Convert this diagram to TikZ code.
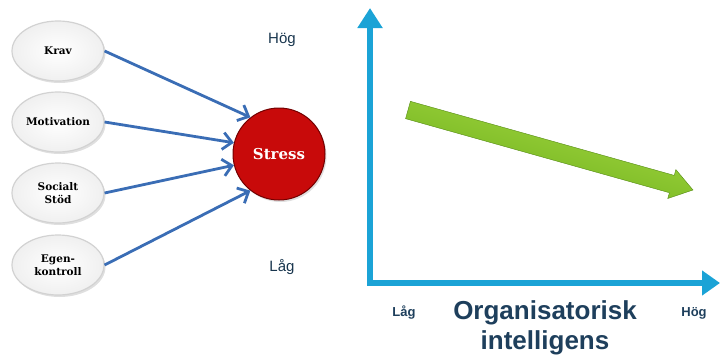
\documentclass[tikz,border=0pt]{standalone}
\usepackage{fontspec}
\setmainfont{DejaVu Serif}
\setsansfont{Liberation Sans}
\usetikzlibrary{arrows.meta,shadows,calc,shapes.geometric}
\definecolor{axisblue}{HTML}{1BA3D6}
\definecolor{linkblue}{HTML}{3A6DB5}
\definecolor{textnavy}{HTML}{1E3F5C}
\definecolor{stressred}{HTML}{C80A0A}
\definecolor{greenlight}{HTML}{A8DA45}
\definecolor{greendark}{HTML}{6AAE18}
\tikzset{
  factor/.style={ellipse, minimum width=92pt, minimum height=60pt, inner color=white, outer color=gray!12,
    draw=gray!35, line width=1.2pt, drop shadow={opacity=0.25, shadow xshift=1.5pt, shadow yshift=-2pt},
    font=\fontsize{10.5}{11.5}\selectfont\bfseries, align=center, inner sep=0pt},
  stressnode/.style={circle, minimum size=92pt, fill=stressred, draw=red!45!black, line width=1pt,
    drop shadow={opacity=0.25, shadow xshift=1.5pt, shadow yshift=-2pt},
    text=white, font=\fontsize{15}{17}\selectfont\bfseries, inner sep=0pt},
  link/.style={draw=linkblue, line width=2.8pt, -{Straight Barb[length=9pt,width=17pt,line width=2.8pt]}},
  axis/.style={draw=axisblue, line width=6pt, line join=miter},
  levellbl/.style={font=\sffamily\fontsize{15}{16}\selectfont, text=textnavy!85!black},
  axislbl/.style={font=\sffamily\bfseries\fontsize{13}{14}\selectfont, text=textnavy},
  titlelbl/.style={font=\sffamily\bfseries\fontsize{26}{30}\selectfont, text=textnavy, align=center}
}
\begin{document}
\begin{tikzpicture}[x=1pt,y=-1pt]
\useasboundingbox (0,0) rectangle (720,356);
% left model
\node[factor] (krav) at (58,51) {Krav};
\node[factor] (motiv) at (58,122) {Motivation};
\node[factor] (social) at (58,193) {Socialt\\[1pt]Stöd};
\node[factor] (egen) at (58,265) {Egen-\\[1pt]kontroll};
\node[stressnode] (stress) at (279,154) {Stress};
\draw[link] (krav.east) -- (stress.128);
\draw[link] (motiv.east) -- (stress.166);
\draw[link] (social.east) -- (stress.194);
\draw[link] (egen.east) -- (stress.232);
\node[levellbl] (hog1) at (282,40) {Hög};
\node[levellbl] (lag1) at (282,267) {Låg};
% axes
\coordinate (ytop) at (370,8);
\coordinate (origin) at (370,283);
\coordinate (xend) at (720,283);
\draw[axis, {Triangle[width=24pt,length=20pt]}-{Triangle[width=24pt,length=18pt]}] (ytop) -- (origin) -- (xend);
% green trend arrow
\coordinate (ga) at (408,110);
\coordinate (gb) at (693,190);
\coordinate (gh) at ($(ga)!274/296!(gb)$);
\shade[top color=greenlight, bottom color=greendark, draw=greendark!80!black, line width=0.4pt, shading angle=-15.7]
  ($(ga)!9pt!90:(gb)$) -- ($(gh)!9pt!-90:(ga)$) -- ($(gh)!15pt!-90:(ga)$) -- (gb)
  -- ($(gh)!15pt!90:(ga)$) -- ($(gh)!9pt!90:(ga)$) -- ($(ga)!9pt!-90:(gb)$) -- cycle;
% axis labels
\node[axislbl] (lag2) at (404,313) {Låg};
\node[axislbl] (hog2) at (694,313) {Hög};
\node[titlelbl] (title) at (545,328) {Organisatorisk\\intelligens};
\end{tikzpicture}
\end{document}
